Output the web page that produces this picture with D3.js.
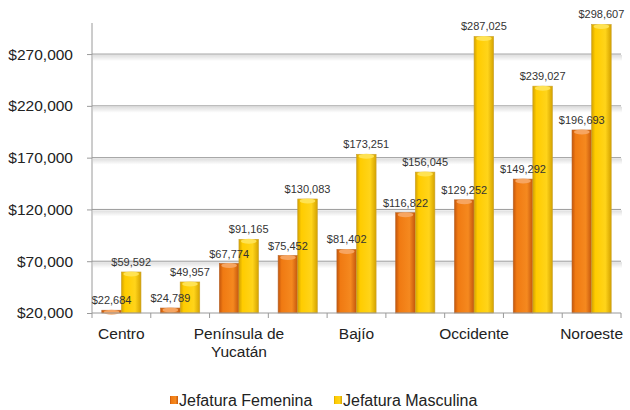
<!DOCTYPE html>
<html>
<head>
<meta charset="utf-8">
<script src="https://cdn.jsdelivr.net/npm/d3@7"></script>
<style>
  body { margin: 0; background: #fff; }
  svg { font-family: "Liberation Sans", Arial, sans-serif; }
</style>
</head>
<body>
<div class="svg-container"></div>
<script>
// regiones (solo se rotulan una sí y otra no, como en el original)
var regiones = ["Centro", "Centro Norte", "Península de Yucatán", "Sur", "Bajío", "Golfo", "Occidente", "Noreste", "Noroeste"];
var etiquetas = ["Centro", "", "Península de\nYucatán", "", "Bajío", "", "Occidente", "", "Noroeste"];
var femenina = [22684, 24789, 67774, 75452, 81402, 116822, 129252, 149292, 196693];
var masculina = [59592, 49957, 91165, 130083, 173251, 156045, 287025, 239027, 298607];
var series = ["Jefatura Femenina", "Jefatura Masculina"];
var yTicks = [20000, 70000, 120000, 170000, 220000, 270000];

var width = 630, height = 410;
var plotLeft = 92, plotRight = 621, plotTop = 23, plotBottom = 313;

var svg = d3.select(".svg-container").append("svg")
    .attr("width", width)
    .attr("height", height);

var defs = svg.append("defs");

// gradientes de las barras
var colores = {
    "Jefatura Femenina": ["#c4560c", "#f07a12", "#f5891f", "#c4560c"],
    "Jefatura Masculina": ["#d4a200", "#ffcc00", "#ffd41a", "#d4a200"]
};
series.forEach(function(s, i) {
    var g = defs.append("linearGradient").attr("id", "grad" + i)
        .attr("x1", "0%").attr("x2", "100%").attr("y1", "0%").attr("y2", "0%");
    var c = colores[s];
    g.append("stop").attr("offset", "0%").attr("stop-color", c[0]);
    g.append("stop").attr("offset", "18%").attr("stop-color", c[1]);
    g.append("stop").attr("offset", "70%").attr("stop-color", c[2]);
    g.append("stop").attr("offset", "100%").attr("stop-color", c[3]);
});
var sombra = defs.append("linearGradient").attr("id", "sombra")
    .attr("x1", "0%").attr("x2", "0%").attr("y1", "0%").attr("y2", "100%");
sombra.append("stop").attr("offset", "0%").attr("stop-color", "#000").attr("stop-opacity", 0.13);
sombra.append("stop").attr("offset", "100%").attr("stop-color", "#000").attr("stop-opacity", 0);

// escalas
var x = d3.scaleBand().domain(regiones).range([plotLeft, plotRight]).paddingInner(0).paddingOuter(0);
var xs = d3.scaleBand().domain(series).range([0, x.bandwidth()]).paddingInner(0).paddingOuter(0.5);
var y = d3.scaleLinear().domain([20000, 300000]).range([plotBottom, plotTop]);

// rejilla
var grid = svg.append("g");
yTicks.forEach(function(t) {
    if (t === 20000) return;
    grid.append("rect")
        .attr("x", plotLeft + 1).attr("y", y(t) + 1)
        .attr("width", plotRight - plotLeft).attr("height", 6)
        .attr("fill", "url(#sombra)");
    grid.append("line")
        .attr("x1", plotLeft).attr("x2", plotRight)
        .attr("y1", y(t)).attr("y2", y(t))
        .attr("stroke", "#9a9a9a").attr("stroke-width", 1);
});

// eje Y
var yAxis = svg.append("g")
    .attr("transform", "translate(" + plotLeft + ",0)")
    .call(d3.axisLeft(y).tickValues(yTicks).tickSize(5).tickPadding(14)
        .tickFormat(function(d) { return "$" + d3.format(",")(d); }));
yAxis.select(".domain").attr("stroke", "#9a9a9a").attr("d", "M0," + plotTop + "V" + plotBottom);
yAxis.selectAll(".tick line").attr("stroke", "#9a9a9a");
yAxis.selectAll("text").attr("font-size", "15.5px").attr("fill", "#222")
    .attr("font-family", "Liberation Sans, Arial, sans-serif");

// barras
var datos = [];
regiones.forEach(function(r, i) {
    datos.push({ region: r, serie: series[0], v: femenina[i], k: 0 });
    datos.push({ region: r, serie: series[1], v: masculina[i], k: 1 });
});
function centro(d) { return x(d.region) + xs(d.serie) + xs.bandwidth() / 2; }

var capaBarras = svg.append("g");
capaBarras.selectAll("rect").data(datos).enter().append("rect")
    .attr("x", function(d) { return x(d.region) + xs(d.serie); })
    .attr("y", function(d) { return y(d.v); })
    .attr("width", xs.bandwidth())
    .attr("height", function(d) { return plotBottom - y(d.v); })
    .attr("fill", function(d) { return "url(#grad" + d.k + ")"; })
    .attr("stroke", function(d) { return d.k === 0 ? "#b6652a" : "#c9a233"; })
    .attr("stroke-width", 0.6);

// brillo superior
capaBarras.selectAll("ellipse").data(datos).enter().append("ellipse")
    .attr("cx", centro)
    .attr("cy", function(d) { return y(d.v) + 2; })
    .attr("rx", xs.bandwidth() / 2 - 2)
    .attr("ry", 2.5)
    .attr("fill", function(d) { return d.k === 0 ? "#f7a868" : "#ffe45a"; })
    .attr("opacity", 0.9);

// eje X
svg.append("line")
    .attr("x1", plotLeft).attr("x2", plotRight)
    .attr("y1", plotBottom).attr("y2", plotBottom)
    .attr("stroke", "#9a9a9a");
regiones.concat([null]).forEach(function(r) {
    var px = r === null ? plotRight : x(r);
    svg.append("line")
        .attr("x1", px).attr("x2", px)
        .attr("y1", plotBottom).attr("y2", plotBottom + 5)
        .attr("stroke", "#9a9a9a");
});
regiones.forEach(function(r, i) {
    if (!etiquetas[i]) return;
    var t = svg.append("text")
        .attr("x", x(r) + x.bandwidth() / 2)
        .attr("y", plotBottom + 26)
        .attr("text-anchor", "middle")
        .attr("font-size", "15.5px")
        .attr("fill", "#222");
    etiquetas[i].split("\n").forEach(function(l, j) {
        t.append("tspan").attr("x", x(r) + x.bandwidth() / 2).attr("dy", j === 0 ? 0 : 18).text(l);
    });
});

// etiquetas de datos (encima de todas las barras)
svg.append("g").selectAll("text").data(datos).enter().append("text")
    .attr("x", centro)
    .attr("y", function(d) { return y(d.v) - 6; })
    .attr("text-anchor", "middle")
    .attr("font-size", "11px")
    .attr("fill", "#333")
    .text(function(d) { return "$" + d3.format(",")(d.v); });

// leyenda
var leyendaX = [170, 334];
var leyenda = svg.selectAll(".leyenda").data(series).enter().append("g")
    .attr("transform", function(d, i) { return "translate(" + leyendaX[i] + ",400)"; });
leyenda.append("rect")
    .attr("x", 0).attr("y", -4).attr("width", 8).attr("height", 8)
    .attr("fill", function(d, i) { return "url(#grad" + i + ")"; });
leyenda.append("text")
    .attr("x", 9).attr("y", 5.5)
    .attr("font-size", "16px")
    .attr("fill", "#222")
    .text(function(d) { return d; });
</script>
</body>
</html>
